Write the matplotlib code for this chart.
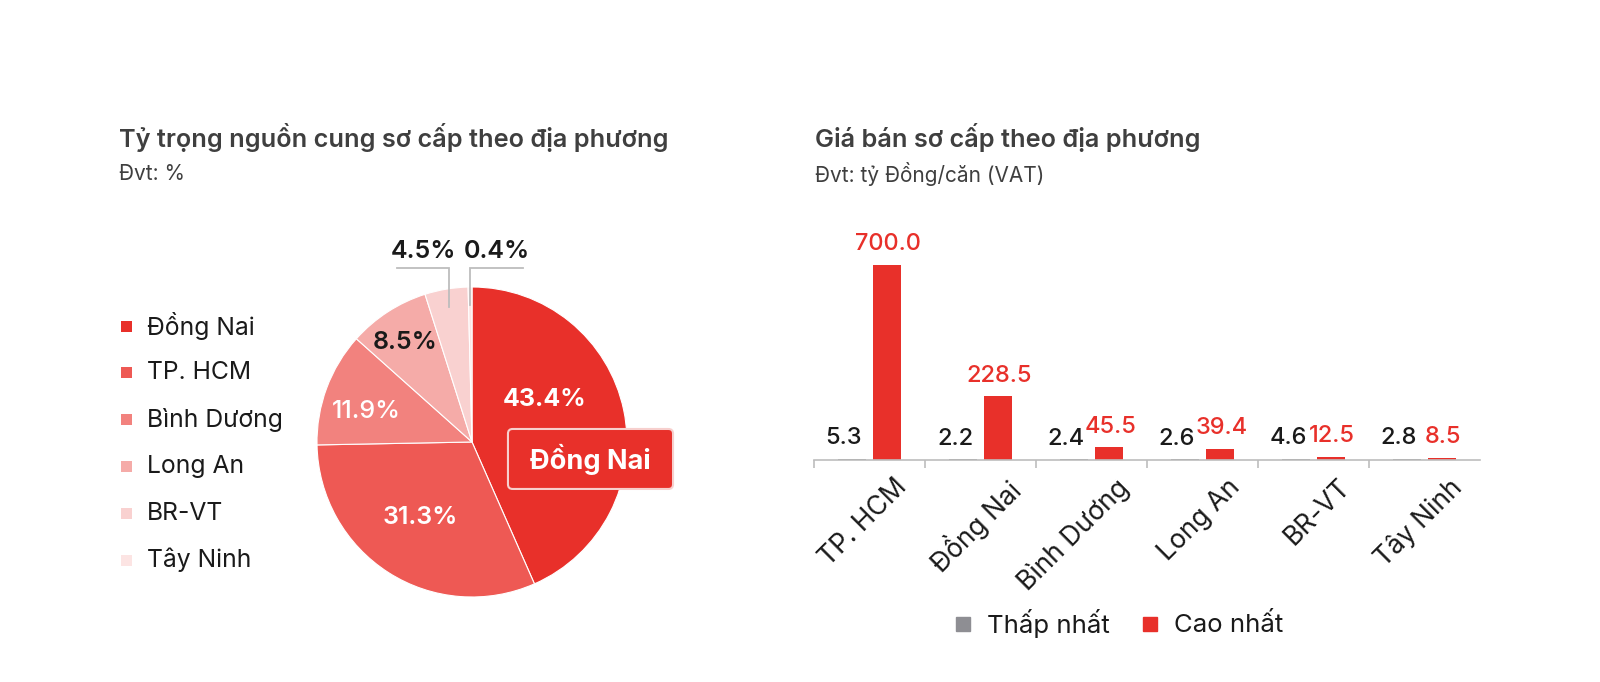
import numpy as np
import matplotlib.pyplot as plt
from matplotlib.patches import Rectangle, FancyBboxPatch
from matplotlib.lines import Line2D
from matplotlib.transforms import ScaledTranslation

plt.rcParams['font.family'] = ['Inter', 'DejaVu Sans']

# -------------------------------
# Data
# -------------------------------
regions = ['Đồng Nai', 'TP. HCM', 'Bình Dương', 'Long An', 'BR-VT', 'Tây Ninh']
shares = [43.4, 31.3, 11.9, 8.5, 4.5, 0.4]
pie_colors = ['#E8302A', '#EE5954', '#F2827E', '#F5ABA8', '#F9D1D0', '#FCE4E3']

cities = ['TP. HCM', 'Đồng Nai', 'Bình Dương', 'Long An', 'BR-VT', 'Tây Ninh']
price_min = [5.3, 2.2, 2.4, 2.6, 4.6, 2.8]
price_max = [700.0, 228.5, 45.5, 39.4, 12.5, 8.5]

RED = '#E8302A'
GRAY = '#8E8E93'
TITLE_C = '#3F3F3F'
TEXT_C = '#1A1A1A'

W, H = 1600, 682
fig = plt.figure(figsize=(W / 100, H / 100), dpi=100)


def fx(px):
    return px / W


def fy(py):
    return 1 - py / H


# -------------------------------
# Titles
# -------------------------------
fig.text(fx(119), fy(138), 'Tỷ trọng nguồn cung sơ cấp theo địa phương',
         fontsize=18.2, fontweight='semibold', color=TITLE_C, va='center')
fig.text(fx(119), fy(174), 'Đvt: %', fontsize=15, color=TITLE_C, va='center')
fig.text(fx(815), fy(138), 'Giá bán sơ cấp theo địa phương',
         fontsize=18.2, fontweight='semibold', color=TITLE_C, va='center')
fig.text(fx(815), fy(174), 'Đvt: tỷ Đồng/căn (VAT)', fontsize=15,
         color=TITLE_C, va='center')

# -------------------------------
# Left legend
# -------------------------------
for i, (name, col) in enumerate(zip(regions, pie_colors)):
    yc = 326 + i * 46.8
    fig.add_artist(Rectangle((fx(121), fy(yc + 5.5)), 11 / W, 11 / H,
                             transform=fig.transFigure, color=col, lw=0))
    fig.text(fx(147), fy(yc), name, fontsize=17.8, color=TEXT_C, va='center')

# -------------------------------
# Pie
# -------------------------------
cx, cy, r = 472, 442, 155
ax1 = fig.add_axes([fx(cx - r), fy(cy + r), 2 * r / W, 2 * r / H])
wedges, _ = ax1.pie(shares, colors=pie_colors, startangle=90, counterclock=False,
                    radius=1, wedgeprops=dict(edgecolor='white', linewidth=0.8))
ax1.set_xlim(-1, 1)
ax1.set_ylim(-1, 1)
ax1.axis('off')

inside_xy = [(0.47, 0.271), (-0.335, -0.484), (-0.68, 0.194), (-0.432, 0.645)]
inside_c = ['white', 'white', 'white', TEXT_C]
inside_w = ['bold', 'semibold', 'medium', 'semibold']
for (lx, ly), val, c, fw in zip(inside_xy, shares[:4], inside_c, inside_w):
    ax1.text(lx, ly, f'{val}%', ha='center', va='center', fontsize=18,
             fontweight=fw, color=c)

# outside labels with leader lines
for wdg, val, side in zip(wedges[4:], shares[4:], [-1, 1]):
    mid = np.deg2rad((wdg.theta1 + wdg.theta2) / 2)
    vx = 0.884 * np.cos(mid)
    y0, y1 = 0.884 * np.sin(mid), 1.123
    hx = vx + side * 0.338
    ax1.plot([vx, vx, hx], [y0, y1, y1], color='#BDBDBD', lw=1.3,
             clip_on=False, solid_joinstyle='miter')
    ax1.text((vx + hx) / 2, 1.23, f'{val}%', ha='center', va='center',
             fontsize=18, fontweight='semibold', color=TEXT_C)

# callout for largest slice
box = FancyBboxPatch((0.232, -0.303), 1.065, 0.387,
                     boxstyle='round,pad=0,rounding_size=0.03',
                     fc=RED, ec='#F7CFCD', lw=1.5, clip_on=False, zorder=5)
ax1.add_patch(box)
ax1.text(0.764, -0.11, regions[0], ha='center', va='center', fontsize=19.5,
         fontweight='bold', color='white', zorder=6)

# -------------------------------
# Bars
# -------------------------------
ax2 = fig.add_axes([fx(814), fy(460), (1480 - 814) / W, 230 / H])
x = np.arange(len(cities))
bw, off = 0.25, 0.16
ax2.bar(x - off, price_min, bw, color=GRAY)
ax2.bar(x + off, price_max, bw, color=RED)
ax2.set_xlim(-0.5, 5.5)
ax2.set_ylim(0, 826)

for xi, lo, hi in zip(x, price_min, price_max):
    ax2.annotate(f'{lo:.1f}', (xi - off - 0.07, lo), xytext=(0, 7),
                 textcoords='offset points', ha='center', va='bottom',
                 fontsize=17, color=TEXT_C, fontweight='medium')
    ax2.annotate(f'{hi:.1f}', (xi + off + 0.01, hi), xytext=(0, 7),
                 textcoords='offset points', ha='center', va='bottom',
                 fontsize=17, color=RED, fontweight='medium')

for s in ['top', 'right', 'left']:
    ax2.spines[s].set_visible(False)
ax2.spines['bottom'].set_color('#BDBDBD')
ax2.spines['bottom'].set_linewidth(1.2)
ax2.set_yticks([])
ax2.set_xticks(x)
ax2.set_xticks(np.arange(-0.5, 5, 1), minor=True)
ax2.tick_params(axis='x', which='major', length=0, pad=10)
ax2.tick_params(axis='x', which='minor', length=6, color='#BDBDBD', width=1.2)
ax2.set_xticklabels(cities, rotation=45, ha='right', rotation_mode='anchor',
                    fontsize=19, color=TEXT_C)
shift = ScaledTranslation(24 / 100, 0, fig.dpi_scale_trans)
for lab in ax2.get_xticklabels():
    lab.set_transform(lab.get_transform() + shift)

handles = [Line2D([], [], marker='s', ls='none', color=GRAY, markersize=10),
           Line2D([], [], marker='s', ls='none', color=RED, markersize=10)]
fig.legend(handles, ['Thấp nhất', 'Cao nhất'], loc='center',
           bbox_to_anchor=(fx(1118), fy(623)), ncol=2, frameon=False,
           fontsize=18.5, handletextpad=0.5, columnspacing=1.2, handlelength=0.8,
           labelcolor=TEXT_C)

fig.savefig('out.png', dpi=100, facecolor='white')
